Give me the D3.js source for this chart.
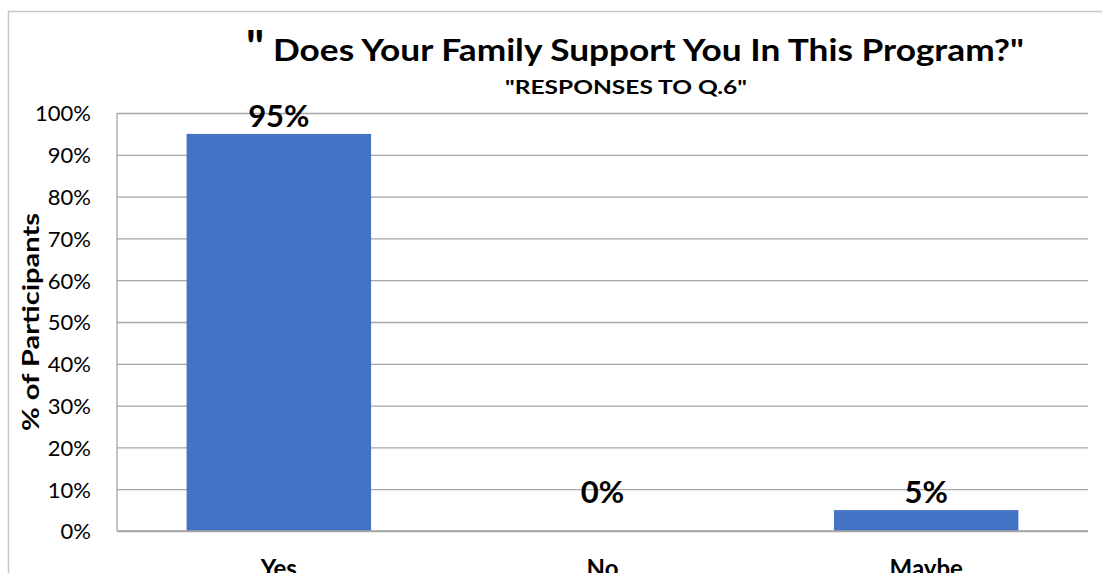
<!DOCTYPE html>
<html>
<head>
<meta charset="utf-8">
<script src="https://cdn.jsdelivr.net/npm/d3@7"></script>
<style>
  html, body { margin: 0; padding: 0; background: #fff; overflow: hidden; }
  svg { display: block; font-family: Lato, "Open Sans", sans-serif; }
</style>
</head>
<body>
<svg id="chart" width="1102" height="573"></svg>
<script>
// Survey responses to Q.6
const categories = ["Yes", "No", "Maybe"];
const percentValues = [95, 0, 5];
const yTicks = [0, 10, 20, 30, 40, 50, 60, 70, 80, 90, 100];

const titleText = "Does Your Family Support You In This Program?\"";
const subtitleText = "\"RESPONSES TO Q.6\"";
const yAxisTitle = "%  of  Participants";

const svg = d3.select("#chart");
const plot = { left: 117, right: 1088, top: 113, bottom: 531 };

const x = d3.scaleBand().domain(categories).range([plot.left, plot.right]).padding(0);
const y = d3.scaleLinear().domain([0, 100]).range([plot.bottom, plot.top]);
const barWidth = x.bandwidth() * 0.57;

// chart frame
svg.append("path")
  .attr("d", `M8.5,573 V11.5 H1102`)
  .attr("fill", "none").attr("stroke", "#c8c8c8").attr("stroke-width", 1.5);

// gridlines
const grid = d3.axisLeft(y).tickValues(yTicks).tickSize(-(plot.right - plot.left)).tickFormat("");
svg.append("g").attr("transform", `translate(${plot.left},0)`).call(grid)
  .call(g => g.select(".domain").remove())
  .call(g => g.selectAll("line").attr("stroke", "#a6a6a6").attr("stroke-width", 1.3));

// bars
svg.append("g").selectAll("rect").data(categories).join("rect")
  .attr("x", (d) => x(d) + (x.bandwidth() - barWidth) / 2)
  .attr("width", barWidth)
  .attr("y", (d, i) => y(percentValues[i]))
  .attr("height", (d, i) => y(0) - y(percentValues[i]))
  .attr("fill", "#4472c4");

// axis lines
svg.append("line").attr("x1", plot.left).attr("x2", plot.left).attr("y1", plot.top).attr("y2", plot.bottom)
  .attr("stroke", "#a6a6a6").attr("stroke-width", 1.3);
svg.append("line").attr("x1", plot.left).attr("x2", plot.right).attr("y1", plot.bottom).attr("y2", plot.bottom)
  .attr("stroke", "#a6a6a6").attr("stroke-width", 1.3);

// y tick labels
const yAxis = d3.axisLeft(y).tickValues(yTicks).tickSize(0).tickPadding(0).tickFormat(d => d + "%");
svg.append("g").attr("transform", `translate(91,0)`).call(yAxis)
  .call(g => g.select(".domain").remove())
  .call(g => g.selectAll("text")
    .attr("font-family", "Lato, sans-serif").attr("font-size", 22).attr("fill", "#000")
    .attr("dy", "0.36em"));

// x category labels
svg.append("g").selectAll("text").data(categories).join("text")
  .attr("x", d => x(d) + x.bandwidth() / 2)
  .attr("y", 577)
  .attr("text-anchor", "middle")
  .attr("font-weight", "bold").attr("font-size", 24)
  .text(d => d);

// value labels
svg.append("g").selectAll("text").data(categories).join("text")
  .attr("x", d => x(d) + x.bandwidth() / 2)
  .attr("y", (d, i) => Math.min(y(percentValues[i]) - 7, y(0) - 28))
  .attr("text-anchor", "middle")
  .attr("font-weight", "bold").attr("font-size", 31)
  .text((d, i) => percentValues[i] + "%");

// y axis title
svg.append("text")
  .attr("transform", `translate(39,${(plot.top + plot.bottom) / 2}) rotate(-90)`)
  .attr("text-anchor", "middle")
  .attr("font-weight", "bold").attr("font-size", 22)
  .attr("textLength", 218).attr("lengthAdjust", "spacingAndGlyphs")
  .text(yAxisTitle);

// title
svg.append("text")
  .attr("x", 246).attr("y", 63)
  .attr("font-weight", "bold").attr("font-size", 46)
  .text("\"");
svg.append("text")
  .attr("x", 273).attr("y", 61)
  .attr("font-weight", "bold").attr("font-size", 30)
  .attr("textLength", 751).attr("lengthAdjust", "spacingAndGlyphs")
  .text(titleText);

// subtitle
svg.append("text")
  .attr("x", 505).attr("y", 94)
  .attr("font-weight", "bold").attr("font-size", 19)
  .attr("textLength", 242).attr("lengthAdjust", "spacingAndGlyphs")
  .text(subtitleText);
</script>
</body>
</html>
